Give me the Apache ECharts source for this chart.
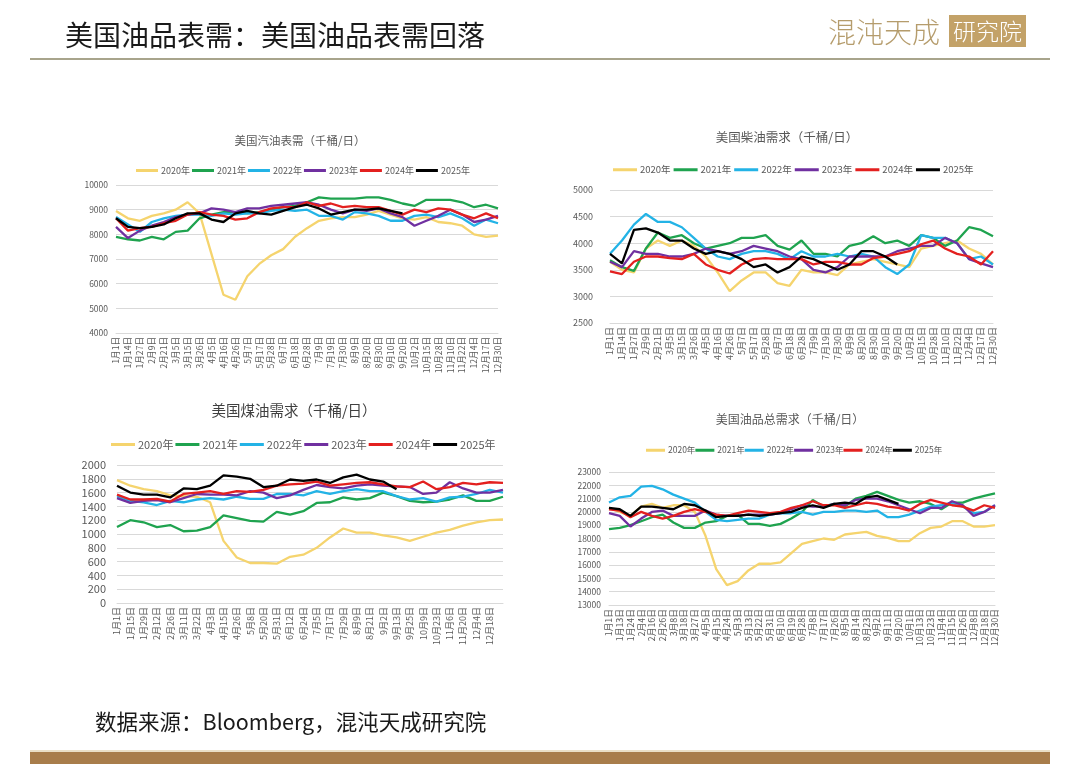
<!DOCTYPE html>
<html><head><meta charset="utf-8">
<script src="https://cdn.jsdelivr.net/npm/echarts@6/dist/echarts.min.js"></script>
<style>html,body{margin:0;padding:0;background:#fff}#c{width:1080px;height:764px}</style>
</head><body><div id="c"></div>
<script>
// ---------- data ----------
const years = ['2020年','2021年','2022年','2023年','2024年','2025年'];

const gasCats = ['1月1日','1月14日','1月27日','2月9日','2月21日','3月5日','3月15日','3月26日','4月5日','4月16日','4月26日','5月7日','5月17日','5月28日','6月7日','6月18日','6月28日','7月9日','7月19日','7月30日','8月9日','8月20日','8月30日','9月10日','9月20日','10月2日','10月15日','10月28日','11月10日','11月22日','12月4日','12月17日','12月30日'];
const gas2020 = [8950,8650,8550,8750,8850,9000,9300,8850,7200,5550,5350,6300,6800,7150,7400,7900,8250,8550,8650,8700,8700,8800,8950,8800,8650,8600,8700,8500,8450,8350,8000,7900,7950];
const gas2021 = [7900,7800,7750,7900,7800,8100,8150,8650,8800,8900,8900,8850,8900,9000,9100,9150,9300,9500,9450,9450,9450,9500,9500,9400,9250,9150,9400,9400,9400,9300,9100,9200,9050];
const gas2022 = [8700,8400,8100,8500,8650,8750,8800,8800,8750,8850,8800,8850,8850,8950,9000,8950,9000,8750,8750,8600,8900,8850,8750,8550,8550,8750,8800,8700,8850,8650,8350,8600,8450];
const gas2023 = [8300,7850,8150,8350,8500,8700,8800,8850,9050,9000,8900,9050,9050,9150,9200,9250,9300,9200,9000,8850,9000,8950,9050,8850,8700,8350,8550,8750,9000,8800,8500,8600,8750];
const gas2024 = [8650,8150,8250,8300,8450,8550,8800,8900,8800,8750,8600,8650,8900,9050,9100,9100,9300,9150,9250,9100,9150,9100,9100,8950,8800,9000,8900,9050,9000,8800,8650,8850,8650];
const gas2025 = [8650,8300,8250,8300,8400,8650,8850,8850,8600,8500,8850,8950,8850,8800,8950,9100,9200,9050,8800,8900,9000,9000,9050,8950,8850];

const dslCats = gasCats.slice();
const dsl2020 = [3650,3500,3450,3900,4050,3950,4050,3950,3750,3450,3100,3300,3450,3450,3250,3200,3500,3450,3450,3400,3600,3650,3700,3650,3600,3550,3900,3950,4000,4050,3900,3800,3600];
const dsl2021 = [3680,3550,3480,3900,4200,4100,4150,4000,3900,3950,4000,4100,4100,4150,3950,3880,4050,3800,3800,3750,3950,4000,4130,4000,4050,3950,4150,4100,3950,4050,4300,4250,4130];
const dsl2022 = [3800,4050,4350,4550,4400,4400,4300,4100,3900,3750,3700,3800,3850,3850,3800,3700,3850,3750,3750,3800,3750,3800,3750,3550,3420,3600,4150,4100,4100,4000,3700,3750,3600];
const dsl2023 = [3650,3550,3850,3800,3800,3750,3750,3800,3900,3850,3800,3850,3950,3900,3850,3750,3700,3500,3450,3550,3750,3750,3750,3750,3850,3900,3950,3950,4100,4000,3700,3620,3550];
const dsl2024 = [3470,3420,3650,3750,3750,3720,3700,3800,3600,3500,3430,3600,3700,3720,3700,3700,3700,3600,3650,3650,3600,3600,3720,3750,3800,3850,3980,4050,3900,3800,3750,3600,3850];
const dsl2025 = [3800,3620,4250,4280,4200,4050,4050,3900,3800,3850,3800,3700,3550,3600,3450,3550,3750,3700,3600,3500,3600,3850,3850,3750,3600];

const jetCats = ['1月1日','1月15日','1月29日','2月12日','2月26日','3月11日','3月22日','4月3日','4月15日','4月26日','5月8日','5月20日','5月31日','6月12日','6月24日','7月5日','7月17日','7月29日','8月9日','8月21日','9月2日','9月13日','9月25日','10月9日','10月23日','11月6日','11月20日','12月4日','12月18日',''];
const jet2020 = [1780,1700,1650,1620,1560,1550,1540,1460,900,660,580,580,570,670,700,800,950,1080,1020,1020,980,950,900,960,1020,1060,1120,1170,1200,1210];
const jet2021 = [1100,1200,1170,1100,1130,1040,1050,1100,1270,1230,1190,1180,1320,1280,1330,1450,1460,1530,1500,1520,1600,1550,1480,1460,1470,1500,1560,1480,1480,1540];
const jet2022 = [1550,1480,1460,1420,1480,1460,1500,1520,1500,1540,1510,1510,1580,1580,1560,1620,1580,1620,1650,1620,1620,1550,1500,1520,1470,1530,1540,1580,1640,1600];
const jet2023 = [1520,1450,1480,1490,1460,1520,1580,1570,1570,1560,1620,1600,1520,1560,1640,1710,1680,1660,1700,1720,1700,1690,1680,1580,1600,1750,1660,1600,1600,1640];
const jet2024 = [1570,1500,1500,1510,1470,1580,1600,1620,1580,1620,1610,1640,1700,1720,1730,1760,1700,1720,1740,1750,1720,1690,1680,1760,1650,1680,1740,1720,1750,1740];
const jet2025 = [1700,1600,1570,1570,1530,1660,1650,1700,1850,1830,1800,1680,1700,1790,1770,1790,1740,1820,1860,1790,1760,1650];

const totCats = ['1月1日','1月13日','1月24日','2月4日','2月16日','2月26日','3月8日','3月18日','3月27日','4月5日','4月15日','4月24日','5月3日','5月13日','5月22日','5月31日','6月10日','6月19日','6月28日','7月8日','7月17日','7月26日','8月5日','8月14日','8月23日','9月2日','9月11日','9月20日','10月1日','10月13日','10月23日','11月4日','11月15日','11月26日','12月8日','12月18日','12月30日'];
const tot2020 = [20300,20000,19700,20400,20600,20300,20500,20500,20000,18200,15700,14500,14800,15600,16100,16100,16200,16900,17600,17800,18000,17900,18300,18400,18500,18200,18050,17800,17800,18400,18800,18900,19300,19300,18900,18900,19000];
const tot2021 = [18700,18800,19000,19300,19600,19800,19200,18800,18800,19200,19300,19700,19800,19100,19100,18950,19100,19500,20000,20900,20400,20600,20400,21000,21200,21500,21200,20900,20700,20800,20600,20200,20700,20700,21000,21200,21400];
const tot2022 = [20700,21100,21200,21900,21950,21700,21300,21000,20700,20000,19400,19300,19400,19500,19500,19800,19900,19900,20000,19800,20000,20000,20100,20100,20000,20100,19600,19600,19800,20100,20400,20500,20700,20400,19900,20000,20500];
const tot2023 = [19900,19700,18900,19500,20000,20100,19700,19700,19700,20100,19800,19700,19700,19800,19800,19800,19900,20200,20500,20400,20400,20600,20500,20900,21000,21000,20800,20500,20200,19900,20300,20300,20800,20500,19700,20000,20500];
const tot2024 = [20200,20100,19600,20000,19700,19500,19700,20000,20200,20000,19800,19700,19900,20100,20000,19900,20000,20300,20500,20800,20500,20500,20300,20500,20700,20600,20400,20300,20100,20600,20900,20700,20500,20400,20100,20500,20300];
const tot2025 = [20300,20200,19700,20400,20400,20300,20200,20600,20500,20100,19600,19700,19700,19800,19700,19800,19900,20000,20300,20500,20300,20600,20700,20600,21100,21200,20900,20600];

// ---------- styling ----------
const colors = ['#f5d46e','#1fa34f','#23b3e6','#7030a0','#e3201f','#000000'];
const FONT = '"Noto Sans CJK SC","Noto Sans",sans-serif';
const TXT = '#595959';

const panels = [
  {cats:gasCats, data:[gas2020,gas2021,gas2022,gas2023,gas2024,gas2025], min:4000, max:10000, step:1000,
   grid:{left:116, top:185, width:382, height:148}, yFont:8.5, xFont:8.6, yMargin:8,
   legend:{left:131, top:161, fs:9, iw:22, gap:2}},
  {cats:dslCats, data:[dsl2020,dsl2021,dsl2022,dsl2023,dsl2024,dsl2025], min:2500, max:5000, step:500,
   grid:{left:610, top:190, width:383, height:133}, yFont:9, xFont:9, yMargin:17,
   legend:{left:608, top:160, fs:9.5, iw:24, gap:3}},
  {cats:jetCats, data:[jet2020,jet2021,jet2022,jet2023,jet2024,jet2025], min:0, max:2000, step:200,
   grid:{left:117, top:465, width:386, height:138}, yFont:11, xFont:9, yMargin:11,
   legend:{left:106, top:434, fs:11, iw:24, gap:2}},
  {cats:totCats, data:[tot2020,tot2021,tot2022,tot2023,tot2024,tot2025], min:13000, max:23000, step:1000,
   grid:{left:609, top:472, width:386, height:133}, yFont:8.5, xFont:8.8, yMargin:8,
   legend:{left:641, top:441, fs:8.5, iw:19, gap:0}}
];

const titles = [
  {text:'美国汽油表需（千桶/日）', x:300, y:141, fs:11.5, c:'#595959'},
  {text:'美国柴油需求（千桶/日）', x:787, y:137, fs:12.5, c:'#595959'},
  {text:'美国煤油需求（千桶/日）', x:294, y:410, fs:14.5, c:'#404040'},
  {text:'美国油品总需求（千桶/日）', x:790, y:419, fs:12, c:'#595959'}
];

const option = {
  backgroundColor:'#fff',
  animation:false,
  textStyle:{fontFamily:FONT},
  grid:[], xAxis:[], yAxis:[], series:[], legend:[],
  graphic:[]
};

panels.forEach((p, k) => {
  option.grid.push(Object.assign({containLabel:false}, p.grid));
  option.xAxis.push({
    type:'category', gridIndex:k, data:p.cats, boundaryGap:false,
    axisLine:{lineStyle:{color:'#d9d9d9'}}, axisTick:{show:false},
    axisLabel:{interval:0, rotate:90, fontSize:p.xFont, color:TXT, margin:4, fontFamily:FONT}
  });
  option.yAxis.push({
    type:'value', gridIndex:k, min:p.min, max:p.max, interval:p.step,
    axisLine:{show:false}, axisTick:{show:false},
    splitLine:{lineStyle:{color:'#d9d9d9'}},
    axisLabel:{fontSize:p.yFont, color:TXT, margin:p.yMargin, fontFamily:FONT, formatter:v => String(v)}
  });
  option.legend.push({
    left:p.legend.left, top:p.legend.top, itemGap:p.legend.gap, itemWidth:p.legend.iw, itemHeight:3,
    icon:'rect', data:years.map(n=>n+'\u200b'.repeat(k)),
    textStyle:{fontSize:p.legend.fs, color:TXT, fontFamily:FONT, padding:[0,0,0,-2]}
  });
  p.data.forEach((arr, i) => {
    option.series.push({
      type:'line', name:years[i]+'\u200b'.repeat(k), xAxisIndex:k, yAxisIndex:k, data:arr,
      showSymbol:false, symbol:'none', smooth:false,
      lineStyle:{width:2.3, color:colors[i]}, itemStyle:{color:colors[i]},
      z: i===5 ? 5 : 2
    });
  });
});

titles.forEach(t => option.graphic.push({
  type:'text', x:t.x, y:t.y,
  style:{text:t.text, font:`${t.fs}px ${FONT}`, fill:t.c, align:'center', verticalAlign:'middle'}
}));

// header / footer
option.graphic.push(
  {type:'text', x:65, y:35, style:{text:'美国油品表需：美国油品表需回落', font:`28px ${FONT}`, fill:'#1a1a1a', align:'left', verticalAlign:'middle'}},
  {type:'line', shape:{x1:30, y1:59, x2:1050, y2:59}, style:{stroke:'#a8a48c', lineWidth:2}},
  {type:'text', x:828, y:32, style:{text:'混沌天成', font:`300 28px ${FONT}`, fill:'#b59c6c', align:'left', verticalAlign:'middle'}},
  {type:'rect', shape:{x:949, y:15, width:77, height:32}, style:{fill:'#c3a268'}},
  {type:'text', x:987.5, y:31, style:{text:'研究院', font:`300 23px ${FONT}`, fill:'#ffffff', align:'center', verticalAlign:'middle'}},
  {type:'text', x:95, y:722, style:{text:'数据来源：Bloomberg，混沌天成研究院', font:`21.5px ${FONT}`, fill:'#1a1a1a', align:'left', verticalAlign:'middle'}},
  {type:'rect', shape:{x:30, y:750, width:1020, height:2}, style:{fill:'#eadfc6'}},
  {type:'rect', shape:{x:30, y:752, width:1020, height:12}, style:{fill:'#a87d4b'}}
);

const chart = echarts.init(document.getElementById('c'), null, {renderer:'canvas'});
chart.setOption(option);
</script>
</body></html>
